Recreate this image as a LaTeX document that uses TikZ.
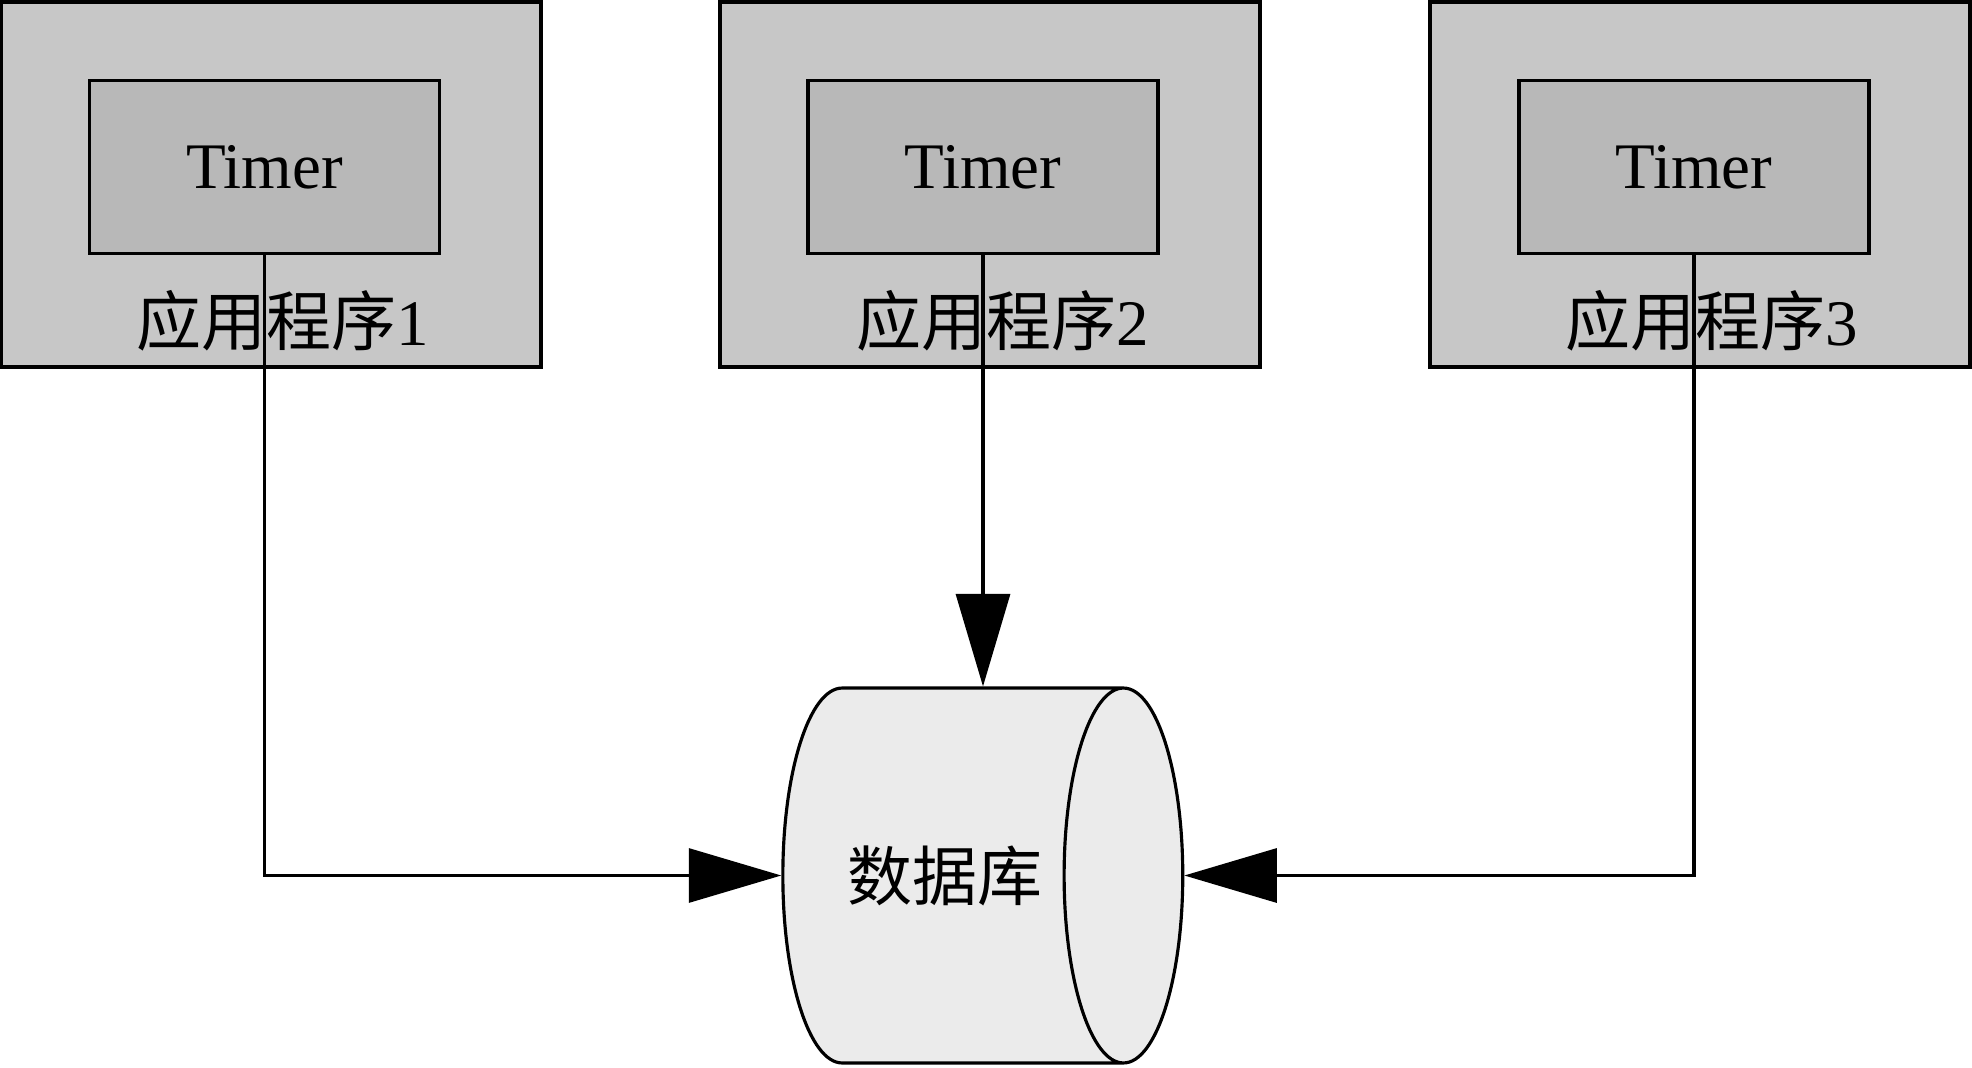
\documentclass[tikz,border=0pt]{standalone}
\usepackage{fontspec}
\setmainfont{Liberation Serif}
\newfontfamily\cjk{Noto Sans CJK SC}
\usetikzlibrary{arrows.meta,shapes.geometric}

\begin{document}
\begin{tikzpicture}[
  x=0.02cm, y=-0.02cm,
  line width=1.8pt,
  font=\fontsize{37}{44}\selectfont,
  app/.style={draw, fill=black!22, minimum width=10.8cm, minimum height=7.3cm},
  timer/.style={draw, fill=black!28, minimum width=7cm, minimum height=3.46cm},
  lbl/.style={inner sep=0pt},
  db/.style={draw, cylinder, fill=black!8, aspect=1.65,
    minimum height=8cm, minimum width=7.5cm},
  arr/.style={-{Triangle[length=1.85cm, width=1.08cm]}},
]
  \useasboundingbox (0,0) rectangle (1972,1068);

  \node[app] (app1) at (271,184.5) {};
  \node[app] (app2) at (990,184.5) {};
  \node[app] (app3) at (1700,184.5) {};

  \node[timer] (t1) at (264.5,167) {Timer};
  \node[timer] (t2) at (983,167) {Timer};
  \node[timer] (t3) at (1694,167) {Timer};

  \node[lbl] (l1) at (283,321) {{\cjk 应用程序}1};
  \node[lbl] (l2) at (1003,321) {{\cjk 应用程序}2};
  \node[lbl] (l3) at (1712,321) {{\cjk 应用程序}3};

  \node[db] (base) at (945,875.5) {\cjk 数据库};

  \draw[arr] (t2.south) -- (t2.south |- base.north);
  \draw[arr] (t1.south) |- (base.west);
  \draw[arr] (t3.south) |- (base.east);
\end{tikzpicture}
\end{document}
